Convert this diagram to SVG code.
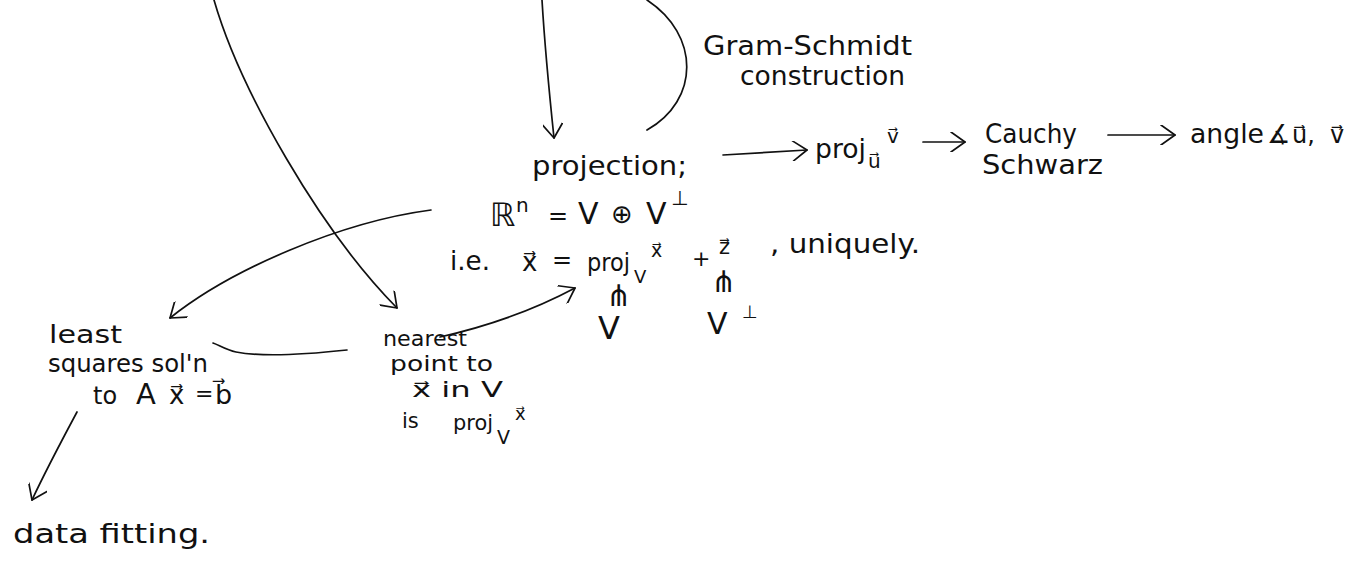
<svg xmlns="http://www.w3.org/2000/svg" width="1364" height="573" viewBox="0 0 1364 573">
<defs>
<style>
text{font-family:"DejaVu Sans","Liberation Sans",sans-serif;fill:#111;}
.t{font-size:27px;}
.n{font-size:21px;}
.l{font-size:24px;}
.m{font-size:30px;}
.c{fill:none;stroke:#111;stroke-width:1.7;stroke-linecap:round;stroke-linejoin:round;}
</style>
<marker id="ah" viewBox="0 0 20 20" refX="18" refY="10" markerWidth="20" markerHeight="20" markerUnits="userSpaceOnUse" orient="auto">
<path d="M4,0 L18,10 L4,20" fill="none" stroke="#111" stroke-width="1.7" stroke-linecap="round" stroke-linejoin="round"/>
</marker>
</defs>
<rect width="1364" height="573" fill="#fff"/>

<g id="connectors">
<path class="c" d="M542,0 C545,50 550,100 554,138" marker-end="url(#ah)"/>
<path class="c" d="M647,0 C700,35 700,100 647,130"/>
<path class="c" d="M214,0 C240,90 320,230 397,308" marker-end="url(#ah)"/>
<path class="c" d="M431,210 C340,222 230,270 170,318" marker-end="url(#ah)"/>
<path class="c" d="M347,350 C310,354 262,357 236,352 C226,350 219,345 213,343"/>
<path class="c" d="M440,337 C480,328 530,312 575,288" marker-end="url(#ah)"/>
<path class="c" d="M723,155 L807,150" marker-end="url(#ah)"/>
<path class="c" d="M923,142 L965,142" marker-end="url(#ah)"/>
<path class="c" d="M1108,135 L1175,135" marker-end="url(#ah)"/>
<path class="c" d="M77,412 C62,440 46,470 32,500" marker-end="url(#ah)"/>
</g>

<g id="gram-schmidt">
<text class="t" x="703" y="55" font-size="28" textLength="209" lengthAdjust="spacingAndGlyphs">Gram-Schmidt</text>
<text class="t" x="740" y="85" textLength="165" lengthAdjust="spacingAndGlyphs">construction</text>
</g>

<g id="projection">
<text class="t" x="532" y="175" font-size="29" textLength="155" lengthAdjust="spacingAndGlyphs">projection;</text>
<text x="490" y="226" font-size="32">ℝ</text>
<text x="516" y="212" font-size="20">n</text>
<text x="548" y="224" font-size="24">=</text>
<text x="578" y="224" font-size="30">V</text>
<text x="611" y="223" font-size="26">⊕</text>
<text x="646" y="224" font-size="30">V</text>
<text x="671" y="205" font-size="20">⊥</text>
<text class="t" x="450" y="270" textLength="40" lengthAdjust="spacingAndGlyphs">i.e.</text>
<text x="522" y="271" font-size="26">x⃗</text>
<text x="552" y="268" font-size="24">=</text>
<text x="587" y="271" font-size="24" textLength="43" lengthAdjust="spacingAndGlyphs">proj</text>
<text x="634" y="283" font-size="18">V</text>
<text x="651" y="257" font-size="19">x⃗</text>
<text x="692" y="266" font-size="22">+</text>
<text x="719" y="254" font-size="21">z⃗</text>
<text class="t" x="770" y="253" textLength="150" lengthAdjust="spacingAndGlyphs">, uniquely.</text>
<text class="m" x="606" y="306">⋔</text>
<text x="598" y="339" font-size="32">V</text>
<text class="m" x="711" y="292">⋔</text>
<text x="707" y="334" font-size="30">V</text>
<text x="742" y="318" font-size="18">⊥</text>
</g>

<g id="proj-uv">
<text x="815" y="158" font-size="26" textLength="51" lengthAdjust="spacingAndGlyphs">proj</text>
<text x="868" y="168" font-size="20">u⃗</text>
<text x="887" y="143" font-size="20">v⃗</text>
</g>

<g id="cauchy-schwarz">
<text class="t" x="985" y="143" font-size="25" textLength="92" lengthAdjust="spacingAndGlyphs">Cauchy</text>
<text class="t" x="982" y="174" font-size="25" textLength="121" lengthAdjust="spacingAndGlyphs">Schwarz</text>
</g>

<g id="angle">
<text class="t" x="1190" y="143" font-size="26" textLength="74" lengthAdjust="spacingAndGlyphs">angle</text>
<text x="1267" y="143" font-size="26">∡</text>
<text x="1292" y="143" font-size="24">u⃗,</text>
<text x="1330" y="143" font-size="24">v⃗</text>
</g>

<g id="least-squares">
<text class="l" x="49" y="343" textLength="73" lengthAdjust="spacingAndGlyphs">least</text>
<text class="l" x="48" y="372" textLength="160" lengthAdjust="spacingAndGlyphs">squares sol'n</text>
<text class="l" x="93" y="404">to</text>
<text x="136" y="404" font-size="29">A</text>
<text x="169" y="404" font-size="26">x⃗</text>
<text x="195" y="401" font-size="22">=</text>
<text x="215" y="404" font-size="27">b⃗</text>
</g>

<g id="nearest-point">
<text class="n" x="383" y="346" textLength="84" lengthAdjust="spacingAndGlyphs">nearest</text>
<text class="n" x="390" y="371" textLength="103" lengthAdjust="spacingAndGlyphs">point to</text>
<text class="n" x="412" y="397" textLength="91" lengthAdjust="spacingAndGlyphs">x⃗ in V</text>
<text class="n" x="402" y="428">is</text>
<text class="n" x="453" y="430" textLength="40" lengthAdjust="spacingAndGlyphs">proj</text>
<text x="497" y="444" font-size="19">V</text>
<text x="515" y="420" font-size="18">x⃗</text>
</g>

<g id="data-fitting">
<text class="t" x="13" y="543" textLength="197" lengthAdjust="spacingAndGlyphs">data fitting.</text>
</g>
</svg>
